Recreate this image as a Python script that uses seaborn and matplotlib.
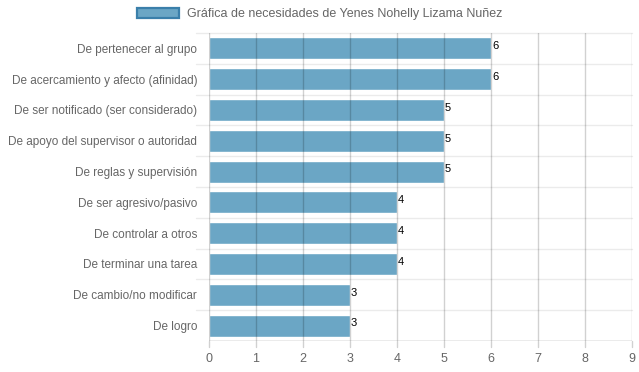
import matplotlib

matplotlib.use("Agg")
import matplotlib.pyplot as plt
import pandas as pd
import seaborn as sns
from matplotlib.patches import Patch

categories = [
    "De pertenecer al grupo",
    "De acercamiento y afecto (afinidad)",
    "De ser notificado (ser considerado)",
    "De apoyo del supervisor o autoridad",
    "De reglas y supervisión",
    "De ser agresivo/pasivo",
    "De controlar a otros",
    "De terminar una tarea",
    "De cambio/no modificar",
    "De logro",
]
values = [6, 6, 5, 5, 5, 4, 4, 4, 3, 3]
x_ticks = list(range(0, 10))
series_label = "Gráfica de necesidades de Yenes Nohelly Lizama Nuñez"

BAR = "#6ba6c5"
EDGE = "#3a7faa"
TXT = "#666666"

sns.set_theme(style="white")
plt.rcParams["font.family"] = ["Liberation Sans", "DejaVu Sans"]

df = pd.DataFrame({"need": categories, "value": values})

fig = plt.figure(figsize=(6.39, 3.72), dpi=100)
ax = fig.add_axes([209 / 639, 1 - 341 / 372, (632 - 209) / 639, (341 - 33) / 372])

sns.barplot(data=df, y="need", x="value", orient="h", color=BAR, width=0.72,
            saturation=1, ax=ax, zorder=2)

ax.set_xlim(0, 9)
ax.set_ylim(len(categories) - 0.5, -0.5)
ax.set_xticks(x_ticks)
ax.set_xlabel("")
ax.set_ylabel("")
for s in ax.spines.values():
    s.set_visible(False)
ax.tick_params(axis="y", length=0, labelsize=8.5, colors=TXT, pad=8.5)
ax.tick_params(axis="x", length=0, labelsize=9, colors=TXT, pad=9)

# vertical grid over bars (semi-transparent, like chart.js)
for x in x_ticks:
    ax.axvline(x, color=(0, 0, 0, 0.18), lw=1, zorder=3)
    ax.plot([x, x], [len(categories) - 0.5, len(categories) - 0.5 + 0.2],
            color=(0, 0, 0, 0.18), lw=1, clip_on=False, zorder=3)
ax.axhline(len(categories) - 0.5, color="#999999", lw=1, zorder=3)

# horizontal category separators extending left as tick marks
for i in range(len(categories)):
    y = i - 0.5
    ax.plot([-0.27, 9], [y, y], color="#ebebeb", lw=1, clip_on=False, zorder=1)

for i, v in enumerate(values):
    ax.text(v + 0.02, i - 0.07, str(v), ha="left", va="center", fontsize=8,
            color="black", zorder=4)

handle = Patch(facecolor=BAR, edgecolor=EDGE, linewidth=1.6)
fig.legend([handle], [series_label], loc="center", bbox_to_anchor=(0.5, 1 - 14 / 372),
           frameon=False, fontsize=9, labelcolor=TXT, handlelength=3.4,
           handleheight=0.85, handletextpad=0.6)

fig.savefig("out.png", dpi=100)
